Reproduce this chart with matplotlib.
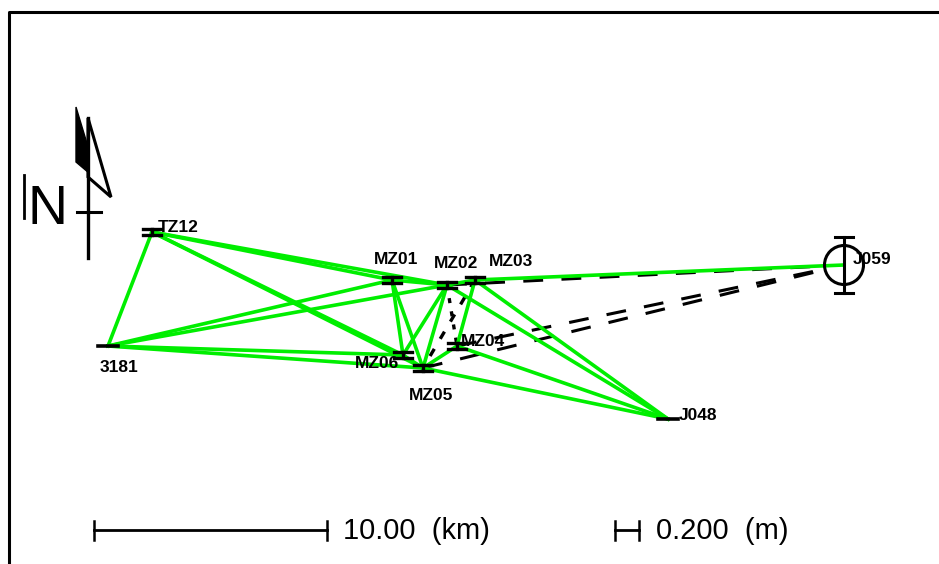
import matplotlib
matplotlib.use("Agg")
import matplotlib.pyplot as plt
from matplotlib.patches import Circle, Polygon

# station positions
names = ["TZ12", "3181", "MZ01", "MZ02", "MZ03", "MZ04", "MZ05", "MZ06", "J048", "J059"]
east = [152, 108, 392, 447, 475, 457, 423, 403, 668, 844]
north = [232, 346, 280, 285, 280, 346, 368, 355, 419, 265]
label_x = [178, 119, 396, 456, 511, 483, 431, 377, 698, 872]
label_y = [228, 367, 259, 264, 262, 341, 395, 363, 415, 260]

green_links = [
    ("TZ12", "3181"), ("TZ12", "MZ01"), ("TZ12", "MZ02"), ("TZ12", "MZ06"), ("TZ12", "MZ05"),
    ("3181", "MZ01"), ("3181", "MZ02"), ("3181", "MZ06"), ("3181", "MZ05"),
    ("MZ01", "MZ02"), ("MZ01", "MZ06"), ("MZ01", "MZ05"),
    ("MZ02", "MZ03"), ("MZ02", "MZ06"), ("MZ02", "MZ05"), ("MZ02", "J048"),
    ("MZ03", "MZ04"), ("MZ03", "J059"), ("MZ03", "J048"),
    ("MZ04", "MZ05"), ("MZ04", "J048"), ("MZ05", "J048"), ("MZ06", "MZ05"),
]
long_dashed = [("MZ02", "J059"), ("MZ04", "J059"), ("MZ05", "J059")]
short_dashed = [("MZ03", "MZ05")]
dotted_links = [("MZ02", "MZ04")]

plt.rcParams["font.family"] = ["Liberation Sans", "DejaVu Sans"]

fig = plt.figure(figsize=(9.39, 5.64), dpi=100)
ax = fig.add_axes([0, 0, 1, 1])
ax.set_xlim(0, 939)
ax.set_ylim(564, 0)
ax.axis("off")

pos = {n: (x, y) for n, x, y in zip(names, east, north)}


def link(a, b, stop=1.0, **kw):
    # stop < 1 ends the line short of station b
    x0, y0 = pos[a]
    x1, y1 = pos[b]
    ax.plot([x0, x0 + (x1 - x0) * stop], [y0, y0 + (y1 - y0) * stop], **kw)


# frame, open on the right and at the bottom
ax.plot([9, 9, 939], [564, 12, 12], color="black", lw=2.2, solid_capstyle="butt")

for a, b in long_dashed:
    link(a, b, stop=0.95, color="black", lw=2.2, ls=(0, (6.5, 6)), zorder=2)
for a, b in short_dashed:
    link(a, b, color="black", lw=2.4, ls=(0, (2.5, 3.5)), zorder=2)
for a, b in dotted_links:
    link(a, b, color="black", lw=2.4, ls=(0, (1.5, 2.5)), zorder=2)
for a, b in green_links:
    link(a, b, color="#00ee00", lw=2.6, zorder=3)

# station ticks
for n, x, y in zip(names, east, north):
    if n == "J059":
        continue
    if n in ("3181", "J048"):
        ax.plot([x - 10, x + 10], [y, y], color="black", lw=2.6, zorder=4)
        continue
    ax.plot([x - 9, x + 9], [y - 3, y - 3], color="black", lw=2.4, zorder=4)
    ax.plot([x - 9, x + 9], [y + 3, y + 3], color="black", lw=2.4, zorder=4)
    ax.plot([x, x], [y - 3, y + 3], color="black", lw=2.4, zorder=4)

for n, x, y in zip(names, label_x, label_y):
    ax.text(x, y, n, ha="center", va="center", fontsize=12.5, fontweight="bold", color="black", zorder=5)

# error ellipse at J059
jx, jy = pos["J059"]
ax.add_patch(Circle((jx, jy), 19.5, fill=False, ec="black", lw=2.2, zorder=4))
ax.plot([jx, jx], [237, 293], color="black", lw=2.2, zorder=4)
ax.plot([jx - 9, jx + 9], [237, 237], color="black", lw=2.2, zorder=4)
ax.plot([jx - 9, jx + 9], [293, 293], color="black", lw=2.2, zorder=4)

# north arrow
ax.add_patch(Polygon([(76, 107), (89, 150), (89, 173), (76, 162)], fc="black", ec="black", lw=1))
ax.add_patch(Polygon([(88, 118), (111, 197), (88, 177)], fill=False, ec="black", lw=2.2))
ax.plot([88, 88], [118, 258], color="black", lw=2.4)
ax.plot([77, 101], [212, 212], color="black", lw=2.2)
ax.plot([24, 24], [175, 218], color="black", lw=2)
ax.text(47, 210, "N", ha="center", va="center", fontsize=40, color="black")

# scale bars
ax.plot([94, 327], [530, 530], color="black", lw=2)
for x in (94, 327):
    ax.plot([x, x], [521, 540], color="black", lw=1.8)
ax.text(343, 531, "10.00  (km)", ha="left", va="center", fontsize=21, color="black")
ax.plot([615, 639], [530, 530], color="black", lw=2)
for x in (615, 639):
    ax.plot([x, x], [521, 540], color="black", lw=1.8)
ax.text(656, 531, "0.200  (m)", ha="left", va="center", fontsize=21, color="black")

fig.savefig("out.png", dpi=100)
